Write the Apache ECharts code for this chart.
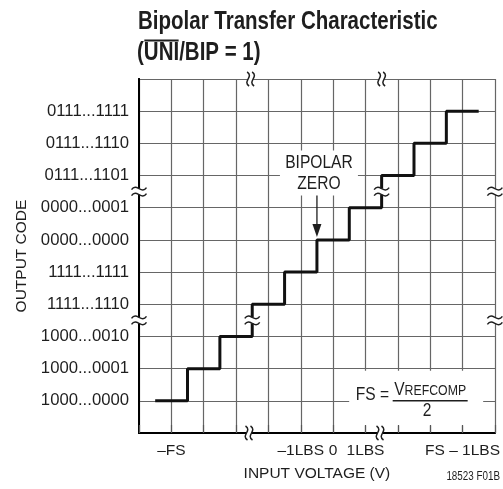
<!DOCTYPE html>
<html><head><meta charset="utf-8">
<script src="https://cdn.jsdelivr.net/npm/echarts@6/dist/echarts.min.js"></script>
<style>html,body{margin:0;padding:0;background:#fff}#c{width:503px;height:489px}</style>
</head><body><div id="c"></div>
<script>
const FONT = '"Liberation Sans", Arial, Helvetica, sans-serif';
const SX = 0.82;           // horizontal squeeze to mimic a condensed face
const INK = '#1e1e1e';

// Data (grid units: one grid cell = one LSB step)
const inputSteps = [1, 2, 3, 4, 5, 6, 7, 8, 9, 10];      // input position of each code centre
const outputCodes = [1, 2, 3, 4, 5, 6, 7, 8, 9, 10];     // output code level
const codeLabels = ['1000...0000', '1000...0001', '1000...0010', '1111...1110', '1111...1111',
                    '0000...0000', '0000...0001', '0111...1101', '0111...1110', '0111...1111'];
const inputTickPositions = [1, 5, 6, 7, 10];
const inputTickNames = ['\u2013FS', '\u20131LBS', '0', '1LBS', 'FS \u2013 1LBS'];
// axis / trace break marks: [x, y, orientation(0 = on vertical line, 1 = on horizontal line)]
const breakMarks = [[0, 7.5, 0], [0, 3.5, 0], [11, 7.5, 0], [11, 3.5, 0],
                    [3.5, 3.5, 0], [7.5, 7.5, 0],
                    [3.45, 11, 1], [7.5, 11, 1], [3.4, 0, 1], [7.45, 0, 1]];
const bipolarZero = [5.5, 6];       // point the arrow indicates
const labelAnchor = [5.5, 8.06];    // BIPOLAR ZERO label
const formulaAnchor = [9, 1];       // FS = VREFCOMP/2

const stair = [[inputSteps[0] - 0.5, outputCodes[0]]]
  .concat(inputSteps.map((x, i) => [x, outputCodes[i]]))
  .concat([[inputSteps[inputSteps.length - 1] + 0.5, outputCodes[outputCodes.length - 1]]]);

const chart = echarts.init(document.getElementById('c'), null, {renderer: 'canvas'});
const gridRect = {left: 139, right: 8, top: 79, bottom: 56};
const axisLineStyle = {show: true, lineStyle: {color: '#000', width: 2}};
const splitStyle = {show: true, lineStyle: {color: '#666', width: 1.2}};

function tilde(x1, y1, x2, y2, cx1, cy1, cx2, cy2) {
  return {type: 'bezierCurve', shape: {x1, y1, x2, y2, cpx1: cx1, cpy1: cy1, cpx2: cx2, cpy2: cy2},
          style: {stroke: INK, lineWidth: 1.5, fill: null}};
}
function sqText(x, y, style) {
  return {type: 'text', x: x, y: y, scaleX: SX, style: Object.assign({fill: INK}, style)};
}

const ctx = document.createElement('canvas').getContext('2d');
ctx.font = 'bold 25px ' + FONT;
const ovX1 = 137 + SX * ctx.measureText('(').width + 0.5;
const ovX2 = 137 + SX * ctx.measureText('(UNI').width - 0.5;

chart.setOption({
  animation: false,
  backgroundColor: '#fff',
  grid: [Object.assign({}, gridRect), Object.assign({}, gridRect)],
  xAxis: [
    {type: 'value', gridIndex: 0, min: 0, max: 11, interval: 1, position: 'bottom',
     axisLine: {show: false}, axisTick: {show: false}, axisLabel: {show: false}, splitLine: splitStyle, z: 0},
    {type: 'value', gridIndex: 1, min: 0, max: 11, interval: 1, position: 'bottom', z: 3,
     axisLine: axisLineStyle, splitLine: {show: false},
     axisTick: {show: true, inside: true, length: 8, lineStyle: {color: '#555', width: 1.2}},
     axisLabel: {margin: 10, color: INK, fontFamily: FONT, fontSize: 15.5,
       formatter: v => { const i = inputTickPositions.indexOf(v); return i >= 0 ? inputTickNames[i] : ''; }},
     name: 'INPUT VOLTAGE (V)', nameLocation: 'middle', nameGap: 33,
     nameTextStyle: {color: INK, fontFamily: FONT, fontSize: 15.5}},
    {type: 'value', gridIndex: 1, min: 0, max: 11, interval: 1, position: 'top', z: 3,
     axisLine: axisLineStyle, axisTick: {show: false}, axisLabel: {show: false}, splitLine: {show: false}}
  ],
  yAxis: [
    {type: 'value', gridIndex: 0, min: 0, max: 11, interval: 1, position: 'left',
     axisLine: {show: false}, axisTick: {show: false}, axisLabel: {show: false}, splitLine: splitStyle, z: 0},
    {type: 'value', gridIndex: 1, min: 0, max: 11, interval: 1, position: 'left', z: 3,
     axisLine: axisLineStyle, axisTick: {show: false}, splitLine: {show: false},
     axisLabel: {margin: 10, color: INK, fontFamily: FONT, fontSize: 16.7,
       formatter: v => (v >= 1 && v <= codeLabels.length) ? codeLabels[v - 1] : ''},
     name: 'OUTPUT CODE', nameLocation: 'middle', nameGap: 100,
     nameTextStyle: {color: INK, fontFamily: FONT, fontSize: 15.5}},
    {type: 'value', gridIndex: 1, min: 0, max: 11, interval: 1, position: 'right', z: 3,
     axisLine: axisLineStyle, axisTick: {show: false}, axisLabel: {show: false}, splitLine: {show: false}}
  ],
  graphic: [
    {type: 'text', x: 138, y: 10, scaleX: SX, style: {text: 'Bipolar Transfer Characteristic', font: 'bold 25px ' + FONT, fill: INK, verticalAlign: 'top'}},
    {type: 'text', x: 137, y: 40.5, scaleX: SX, style: {text: '(UNI/BIP = 1)', font: 'bold 25px ' + FONT, fill: INK, verticalAlign: 'top'}},
    {type: 'line', shape: {x1: ovX1, y1: 40.5, x2: ovX2, y2: 40.5}, style: {stroke: INK, lineWidth: 2}},
    {type: 'text', x: 500, y: 471, scaleX: SX, style: {text: '18523 F01B', font: '12px ' + FONT, fill: INK, align: 'right', verticalAlign: 'top'}}
  ],
  series: [
    {type: 'line', xAxisIndex: 1, yAxisIndex: 1, data: stair, step: 'middle', showSymbol: false, symbol: 'none',
     lineStyle: {color: '#111', width: 3}, z: 4, silent: true},
    // white label boxes (below the axes, above the grid lines)
    {type: 'custom', xAxisIndex: 1, yAxisIndex: 1, z: 1, clip: false, silent: true,
     data: [labelAnchor],
     renderItem: (params, api) => {
       const p = api.coord([api.value(0), api.value(1)]);
       return {type: 'group', children: [
         {type: 'rect', shape: {x: p[0] - 37, y: p[1] - 23, width: 78, height: 45}, style: {fill: '#fff'}},
         sqText(p[0] + 2, p[1], {text: 'BIPOLAR\nZERO', font: '19px ' + FONT, align: 'center', verticalAlign: 'middle', lineHeight: 21})
       ]};
     }},
    {type: 'custom', xAxisIndex: 1, yAxisIndex: 1, z: 1, clip: false, silent: true,
     data: [formulaAnchor],
     renderItem: (params, api) => {
       const p = api.coord([api.value(0), api.value(1)]);
       return {type: 'group', children: [
         {type: 'rect', shape: {x: p[0] - 81, y: p[1] - 30, width: 134, height: 55}, style: {fill: '#fff'}},
         sqText(p[0] - 41, p[1] - 6, {text: 'FS =', font: '19px ' + FONT, align: 'right', verticalAlign: 'middle'}),
         sqText(p[0], p[1] - 12, {text: '{v|V}{s|REFCOMP}', align: 'center', verticalAlign: 'middle',
           rich: {v: {fontFamily: FONT, fontSize: 19, verticalAlign: 'bottom', lineHeight: 20},
                  s: {fontFamily: FONT, fontSize: 15, verticalAlign: 'bottom', lineHeight: 18}}}),
         {type: 'line', shape: {x1: p[0] - 37.5, y1: p[1], x2: p[0] + 37.5, y2: p[1]}, style: {stroke: INK, lineWidth: 1.5}},
         sqText(p[0] - 3, p[1] + 10, {text: '2', font: '19px ' + FONT, align: 'center', verticalAlign: 'middle'})
       ]};
     }},
    // arrow to bipolar zero
    {type: 'custom', xAxisIndex: 1, yAxisIndex: 1, z: 5, clip: false, silent: true,
     data: [[bipolarZero[0], bipolarZero[1], labelAnchor[1]]],
     renderItem: (params, api) => {
       const tip = api.coord([api.value(0), api.value(1)]);
       const top = api.coord([api.value(0), api.value(2)]);
       const tx = tip[0], ty = tip[1] - 3;
       return {type: 'group', children: [
         {type: 'line', shape: {x1: tx, y1: top[1] + 22, x2: tx, y2: ty - 10}, style: {stroke: INK, lineWidth: 1.3}},
         {type: 'polygon', shape: {points: [[tx - 4.5, ty - 13], [tx + 4.5, ty - 13], [tx, ty]]}, style: {fill: INK}}
       ]};
     }},
    // break marks
    {type: 'custom', xAxisIndex: 1, yAxisIndex: 1, z: 10, clip: false, silent: true,
     data: breakMarks,
     renderItem: (params, api) => {
       const p = api.coord([api.value(0), api.value(1)]);
       const cx = p[0], cy = p[1];
       if (api.value(2) === 0) {
         const w = 7.5, g = 3;
         return {type: 'group', children: [
           {type: 'rect', shape: {x: cx - w, y: cy - g, width: 2 * w, height: 2 * g}, style: {fill: '#fff'}},
           tilde(cx - w, cy - g + 1, cx + w, cy - g - 1, cx - 2.5, cy - g - 6, cx + 2.5, cy - g + 6),
           tilde(cx - w, cy + g + 1, cx + w, cy + g - 1, cx - 2.5, cy + g - 6, cx + 2.5, cy + g + 6)
         ]};
       }
       const h = 7, g = 2.5;
       return {type: 'group', children: [
         {type: 'rect', shape: {x: cx - g, y: cy - h, width: 2 * g, height: 2 * h}, style: {fill: '#fff'}},
         tilde(cx - g - 1, cy - h, cx - g + 1, cy + h, cx - g + 6, cy - 2.5, cx - g - 6, cy + 2.5),
         tilde(cx + g - 1, cy - h, cx + g + 1, cy + h, cx + g + 6, cy - 2.5, cx + g - 6, cy + 2.5)
       ]};
     }}
  ]
});
</script></body></html>
